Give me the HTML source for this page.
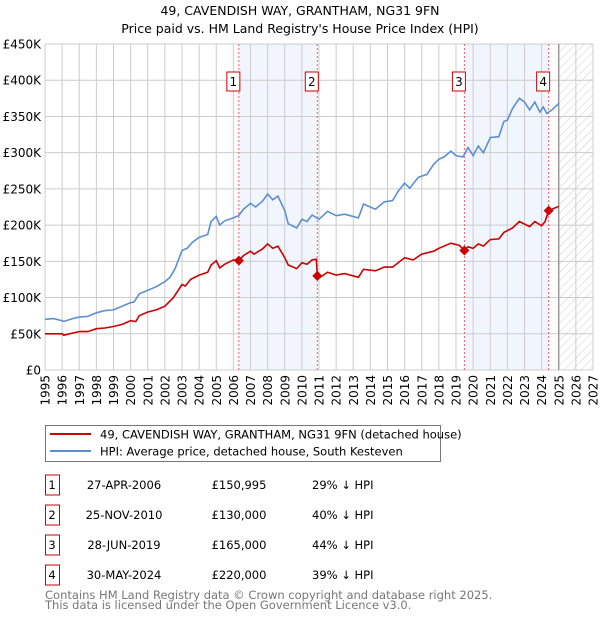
<!DOCTYPE html>
<html><head><meta charset="utf-8"><style>
body{margin:0;background:#fff;font-family:"Liberation Sans","DejaVu Sans",sans-serif;}
svg text{font-family:"DejaVu Sans","Liberation Sans",sans-serif;}
</style></head><body>
<svg id="c" width="600" height="620" xmlns="http://www.w3.org/2000/svg">
<defs><pattern id="hatch" width="6" height="6" patternUnits="userSpaceOnUse" patternTransform="rotate(45)"><line x1="0" y1="0" x2="0" y2="6" stroke="#ccc" stroke-width="1"/></pattern></defs>
<text x="300" y="15" text-anchor="middle" font-size="12.5">49, CAVENDISH WAY, GRANTHAM, NG31 9FN</text>
<text x="300" y="33" text-anchor="middle" font-size="12.5">Price paid vs. HM Land Registry's House Price Index (HPI)</text>
<g id="plot"></g>
<g>
<rect x="45.5" y="425.5" width="395" height="36" fill="#fff" stroke="#777"/>
<line x1="50" y1="434" x2="91" y2="434" stroke="#cc0000" stroke-width="2"/>
<text x="100" y="438.5" font-size="11.5">49, CAVENDISH WAY, GRANTHAM, NG31 9FN (detached house)</text>
<line x1="50" y1="451" x2="91" y2="451" stroke="#5b8fd4" stroke-width="2"/>
<text x="100" y="455.5" font-size="11.5">HPI: Average price, detached house, South Kesteven</text>
</g>
<g id="table" font-size="11.5"></g>
<text x="45" y="599" font-size="11.5" fill="#777">Contains HM Land Registry data © Crown copyright and database right 2025.</text>
<text x="45" y="609" font-size="11.5" fill="#777">This data is licensed under the Open Government Licence v3.0.</text>
</svg>
<script>
const hpiYears=[1995,1995.5,1996,1996.1,1996.6,1997,1997.5,1998,1998.5,1999,1999.5,2000,2000.2,2000.5,2001,2001.5,2002,2002.3,2002.6,2003,2003.3,2003.6,2004,2004.5,2004.7,2005,2005.2,2005.5,2006,2006.3,2006.6,2007,2007.3,2007.7,2008,2008.3,2008.6,2009,2009.2,2009.7,2010,2010.3,2010.6,2011,2011.5,2012,2012.5,2013.3,2013.6,2014.3,2014.8,2015.3,2015.6,2016,2016.3,2016.8,2017.3,2017.7,2018,2018.3,2018.7,2019,2019.4,2019.7,2020,2020.3,2020.6,2021,2021.5,2021.8,2022,2022.3,2022.7,2023,2023.3,2023.6,2023.9,2024.1,2024.3,2024.6,2025];
const hpiValues=[70,71,68,67,71,73,74,79,82,83,88,93,94,105,110,115,122,128,140,165,168,176,183,187,205,212,200,206,210,213,222,230,225,233,243,235,240,220,202,196,208,205,214,208,219,213,215,210,229,222,232,234,246,258,251,266,270,284,291,294,302,296,294,307,296,309,300,321,322,343,345,361,375,370,359,370,356,363,354,359,368];
const ppYears=[1995,1995.5,1996,1996.1,1996.6,1997,1997.5,1998,1998.5,1999,1999.5,2000,2000.3,2000.5,2001,2001.5,2002,2002.5,2003,2003.2,2003.5,2004,2004.5,2004.7,2005,2005.2,2005.5,2006,2006.32,2006.6,2007,2007.2,2007.7,2008,2008.3,2008.6,2009,2009.2,2009.7,2010,2010.3,2010.6,2010.85,2010.9,2011,2011.5,2012,2012.5,2013.3,2013.6,2014.3,2014.8,2015.3,2016,2016.5,2017,2017.7,2018,2018.7,2019.2,2019.49,2019.7,2020,2020.3,2020.6,2021,2021.5,2021.8,2022.3,2022.7,2023.3,2023.6,2024,2024.2,2024.41,2025];
const ppValues=[50,50,50,48,51,53,53,57,58,60,63,68,67,75,80,83,88,100,118,116,125,131,135,145,151,141,146,152,151,158,164,160,167,174,168,171,155,145,140,148,146,152,153,130,127,135,131,133,128,139,137,142,142,155,152,160,164,168,175,172,165,170,168,174,171,180,181,190,196,205,198,205,199,205,220,226];
const saleLabels=["1","2","3","4"];
const saleYears=[2006.32,2010.9,2019.49,2024.41];
const salePrices=[150995,130000,165000,220000];
const saleDates=["27-APR-2006","25-NOV-2010","28-JUN-2019","30-MAY-2024"];
const salePriceText=["£150,995","£130,000","£165,000","£220,000"];
const salePct=["29% ↓ HPI","40% ↓ HPI","44% ↓ HPI","39% ↓ HPI"];
const yTicks=[0,50,100,150,200,250,300,350,400,450];
const yTickLabels=["£0","£50K","£100K","£150K","£200K","£250K","£300K","£350K","£400K","£450K"];
const xTicks=[1995,1996,1997,1998,1999,2000,2001,2002,2003,2004,2005,2006,2007,2008,2009,2010,2011,2012,2013,2014,2015,2016,2017,2018,2019,2020,2021,2022,2023,2024,2025,2026,2027];
const dataEnd=2025;

const NS="http://www.w3.org/2000/svg";
const L=45,R=593,T=44,B=370;
const x=y=>L+(y-1995)/(2027-1995)*(R-L);
const yv=v=>B-v/450*(B-T);
const g=document.getElementById('plot');
function mk(tag,attrs,parent){const e=document.createElementNS(NS,tag);for(const k in attrs)e.setAttribute(k,attrs[k]);(parent||g).appendChild(e);return e;}
// shading
for(let i=0;i<saleYears.length;i+=2){
 const r=mk('rect',{x:x(saleYears[i]),y:T,width:x(saleYears[i+1])-x(saleYears[i]),height:B-T,fill:'#eef3fc',opacity:0.8});
 
 
}
const h=mk('rect',{x:x(dataEnd),y:T,width:R-x(dataEnd),height:B-T,fill:'url(#hatch)'});


// grid
yTicks.forEach((t,i)=>{
 const ln=mk('line',{x1:L,x2:R,y1:yv(t),y2:yv(t),stroke:'#ccc','stroke-width':1});
 
 
 const tx=mk('text',{x:L-4,y:yv(t)+4.5,'text-anchor':'end','font-size':12});
 tx.textContent=yTickLabels[i];
 
 
});
xTicks.forEach(t=>{
 const ln=mk('line',{x1:x(t),x2:x(t),y1:T,y2:B,stroke:'#ccc','stroke-width':1});
 
 
 const tx=mk('text',{x:0,y:0,'text-anchor':'end','font-size':12,transform:`translate(${x(t)+4.5},${B+5}) rotate(-90)`});
 tx.textContent=t;
 
 
});
const el=mk('line',{x1:x(dataEnd),x2:x(dataEnd),y1:T,y2:B,stroke:'#888','stroke-width':1.2});


// sale markers lines
saleYears.forEach((s,i)=>{
 const ln=mk('line',{x1:x(s),x2:x(s),y1:T,y2:B,stroke:'#f06060','stroke-width':1,'stroke-dasharray':'2,2'});
 
 
 const bx=mk('rect',{x:x(s)-12,y:72,width:13,height:19,fill:'#fff',stroke:'#cc0000','stroke-width':1});
 
 
 const tx=mk('text',{x:x(s)-5.5,y:86,'text-anchor':'middle','font-size':12});
 tx.textContent=saleLabels[i];
 
 
});
const pts=(xs,vs)=>xs.map((a,i)=>x(a).toFixed(1)+','+yv(vs[i]).toFixed(1)).join(' ');
const hl=mk('polyline',{points:pts(hpiYears,hpiValues),fill:'none',stroke:'#5b8fd4','stroke-width':1.6});


const pl=mk('polyline',{points:pts(ppYears,ppValues),fill:'none',stroke:'#cc0000','stroke-width':1.6});


saleYears.forEach((s,i)=>{
 const cx=x(s),cy=yv(salePrices[i]/1000);
 const d=mk('polygon',{points:`${cx},${cy-5} ${cx+5},${cy} ${cx},${cy+5} ${cx-5},${cy}`,fill:'#cc0000'});
 
 
});
// table
const tb=document.getElementById('table');
saleLabels.forEach((lab,i)=>{
 const y0=475+i*30;
 const bx=mk('rect',{x:45.5,y:y0,width:14,height:20,fill:'#fff',stroke:'#cc0000'},tb);
 
 
 const cells=[[52,lab,'middle'],[124,saleDates[i],'middle'],[239,salePriceText[i],'middle'],[312,salePct[i],'start']];
 cells.forEach(c=>{
  const t=mk('text',{x:c[0],y:y0+14,'text-anchor':c[2]},tb);
  t.textContent=c[1];
  
  
 });
});
</script>
</body></html>
